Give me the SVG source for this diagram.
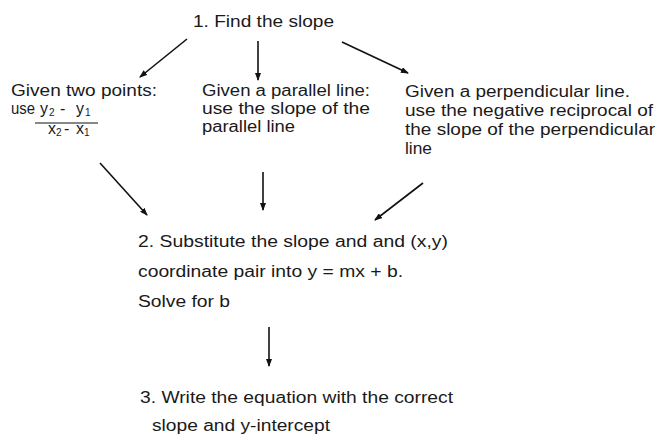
<svg xmlns="http://www.w3.org/2000/svg" width="657" height="440" viewBox="0 0 657 440">
<style>
text { font-family: "Liberation Sans", Arial, sans-serif; font-size: 16px; fill: #1a1a1a; }
.s { font-size: 10px; }
.c { stroke: #111; stroke-width: 1.6; fill: none; marker-end: url(#ah); }
</style>
<defs>
<marker id="ah" markerUnits="userSpaceOnUse" markerWidth="8" markerHeight="6" refX="7" refY="3" orient="auto">
<path d="M0,0 L8,3 L0,6 z" fill="#111"/>
</marker>
</defs>
<rect width="657" height="440" fill="#fff"/>
<g id="n1"><text x="193" y="27" textLength="141" lengthAdjust="spacingAndGlyphs">1. Find the slope</text></g>
<g id="n2">
<text x="11" y="96" textLength="146" lengthAdjust="spacingAndGlyphs">Given two points:</text>
<text x="11" y="114" textLength="24" lengthAdjust="spacingAndGlyphs">use</text>
<text x="40" y="114">y</text><text class="s" x="49" y="116">2</text><text x="60" y="114">-</text><text x="76" y="114">y</text><text class="s" x="85" y="116">1</text>
<line x1="35" y1="123" x2="98" y2="123" stroke="#111" stroke-width="1.2"/>
<text x="48" y="134" font-size="14">x</text><text class="s" x="56" y="136">2</text><text x="64" y="134" font-size="14">-</text><text x="76" y="134" font-size="14">x</text><text class="s" x="84" y="136">1</text>
</g>
<g id="n3">
<text x="202" y="96" textLength="168" lengthAdjust="spacingAndGlyphs">Given a parallel line:</text>
<text x="202" y="114" textLength="168" lengthAdjust="spacingAndGlyphs">use the slope of the</text>
<text x="202" y="132" textLength="93" lengthAdjust="spacingAndGlyphs">parallel line</text>
</g>
<g id="n4">
<text x="405" y="97" textLength="225" lengthAdjust="spacingAndGlyphs">Given a perpendicular line.</text>
<text x="405" y="116" textLength="248" lengthAdjust="spacingAndGlyphs">use the negative reciprocal of</text>
<text x="405" y="135" textLength="250" lengthAdjust="spacingAndGlyphs">the slope of the perpendicular</text>
<text x="405" y="154" textLength="27" lengthAdjust="spacingAndGlyphs">line</text>
</g>
<g id="n5">
<text x="138" y="247" textLength="310" lengthAdjust="spacingAndGlyphs">2. Substitute the slope and and (x,y)</text>
<text x="138" y="277" textLength="265" lengthAdjust="spacingAndGlyphs">coordinate pair into y = mx + b.</text>
<text x="138" y="307" textLength="92" lengthAdjust="spacingAndGlyphs">Solve for b</text>
</g>
<g id="n6">
<text x="140" y="403" textLength="313" lengthAdjust="spacingAndGlyphs">3. Write the equation with the correct</text>
<text x="152" y="431" textLength="178" lengthAdjust="spacingAndGlyphs">slope and y-intercept</text>
</g>
<g id="connectors">
<line class="c" x1="187" y1="39" x2="140" y2="77"/>
<line class="c" x1="258" y1="41" x2="258" y2="80"/>
<line class="c" x1="342" y1="42" x2="408" y2="73"/>
<line class="c" x1="100" y1="163" x2="147" y2="215"/>
<line class="c" x1="263" y1="172" x2="263" y2="210"/>
<line class="c" x1="423" y1="183" x2="375" y2="220"/>
<line class="c" x1="269" y1="327" x2="269" y2="366"/>
</g>
</svg>
